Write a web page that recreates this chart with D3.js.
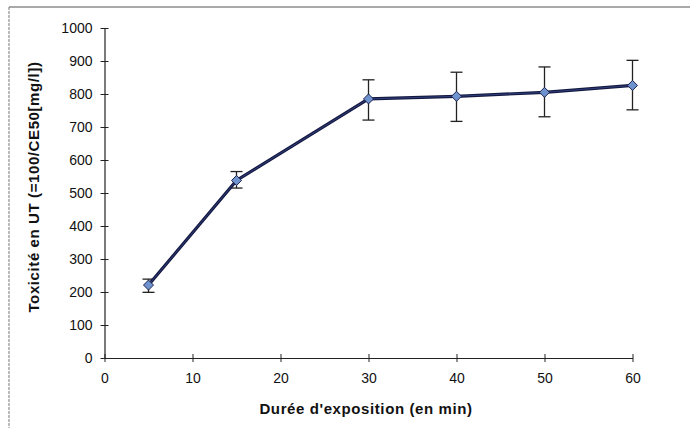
<!DOCTYPE html>
<html>
<head>
<meta charset="utf-8">
<script src="https://d3js.org/d3.v7.min.js"></script>
<style>
  body { margin: 0; background: #fff; }
  text { font-family: "Liberation Sans", Arial, sans-serif; fill: #111; }
</style>
</head>
<body>
<div id="vis"></div>
<script>
// exposure time (min) and toxicity in UT with error bar limits
const durations = [5, 15, 30, 40, 50, 60];
const toxicity = [221, 538, 785, 793, 805, 826];
const errLow = [199, 515, 721, 717, 731, 752];
const errHigh = [239, 565, 843, 866, 882, 902];
const xTicks = [0, 10, 20, 30, 40, 50, 60];
const yTicks = [0, 100, 200, 300, 400, 500, 600, 700, 800, 900, 1000];

const W = 690, H = 428;
const svg = d3.select("#vis").append("svg")
  .attr("width", W).attr("height", H);

// frame (only top and left edges show in the scan)
svg.append("line").attr("x1", 9).attr("x2", W).attr("y1", 7).attr("y2", 7)
  .attr("stroke", "#555").attr("stroke-width", 1.2);
svg.append("line").attr("x1", 9).attr("x2", 9).attr("y1", 7).attr("y2", H)
  .attr("stroke", "#777").attr("stroke-width", 1).attr("stroke-dasharray", "3,1");

const x = d3.scaleLinear().domain([0, 60]).range([104.5, 632.5]);
const y = d3.scaleLinear().domain([0, 1000]).range([358, 28]);

// axes
const xAxis = svg.append("g").attr("transform", "translate(0,358)")
  .call(d3.axisBottom(x).tickValues(xTicks).tickFormat(d3.format("d")).tickSize(0).tickPadding(15));
xAxis.selectAll(".tick line").remove();
xAxis.selectAll(".tick").append("line").attr("y1", -4).attr("y2", 4).attr("stroke", "#222");
const yAxis = svg.append("g").attr("transform", "translate(104.5,0)")
  .call(d3.axisLeft(y).tickValues(yTicks).tickFormat(d3.format("d")).tickSize(0).tickPadding(12));
yAxis.selectAll(".tick line").remove();
yAxis.selectAll(".tick").append("line").attr("x1", -4).attr("x2", 4).attr("stroke", "#222");
svg.selectAll(".domain").attr("stroke", "#222").attr("stroke-width", 1.2);
svg.selectAll(".tick text").attr("font-size", 14).style("fill", "#111");

// axis titles
svg.append("text").attr("x", 366).attr("y", 414)
  .attr("text-anchor", "middle").attr("font-size", 15).attr("font-weight", "bold")
  .attr("letter-spacing", 0.6)
  .text("Durée d'exposition (en min)");
svg.append("text").attr("transform", "translate(39,187) rotate(-90)")
  .attr("text-anchor", "middle").attr("font-size", 15).attr("font-weight", "bold")
  .attr("letter-spacing", 0.6)
  .text("Toxicité en UT (=100/CE50[mg/l])");

const pts = durations.map((d, i) => ({ t: d, v: toxicity[i], lo: errLow[i], hi: errHigh[i] }));

// error bars
const eb = svg.append("g").attr("stroke", "#222").attr("stroke-width", 1.3);
eb.selectAll(".v").data(pts).join("line")
  .attr("x1", d => x(d.t)).attr("x2", d => x(d.t))
  .attr("y1", d => y(d.lo)).attr("y2", d => y(d.hi));
eb.selectAll(".top").data(pts).join("line").attr("class", "top")
  .attr("x1", d => x(d.t) - 6).attr("x2", d => x(d.t) + 6)
  .attr("y1", d => y(d.hi)).attr("y2", d => y(d.hi));
eb.selectAll(".bot").data(pts).join("line").attr("class", "bot")
  .attr("x1", d => x(d.t) - 6).attr("x2", d => x(d.t) + 6)
  .attr("y1", d => y(d.lo)).attr("y2", d => y(d.lo));

// line
const line = d3.line().x(d => x(d.t)).y(d => y(d.v));
svg.append("path").datum(pts).attr("d", line)
  .attr("fill", "none").attr("stroke", "#161840").attr("stroke-width", 3.2);
svg.append("path").datum(pts).attr("d", line)
  .attr("fill", "none").attr("stroke", "#2a3f7a").attr("stroke-width", 1);

// diamond markers
svg.selectAll(".mk").data(pts).join("path").attr("class", "mk")
  .attr("transform", d => `translate(${x(d.t)},${y(d.v)})`)
  .attr("d", "M0,-5L5,0L0,5L-5,0Z")
  .attr("fill", "#6f93cf").attr("stroke", "#1c2450").attr("stroke-width", 1);
</script>
</body>
</html>
